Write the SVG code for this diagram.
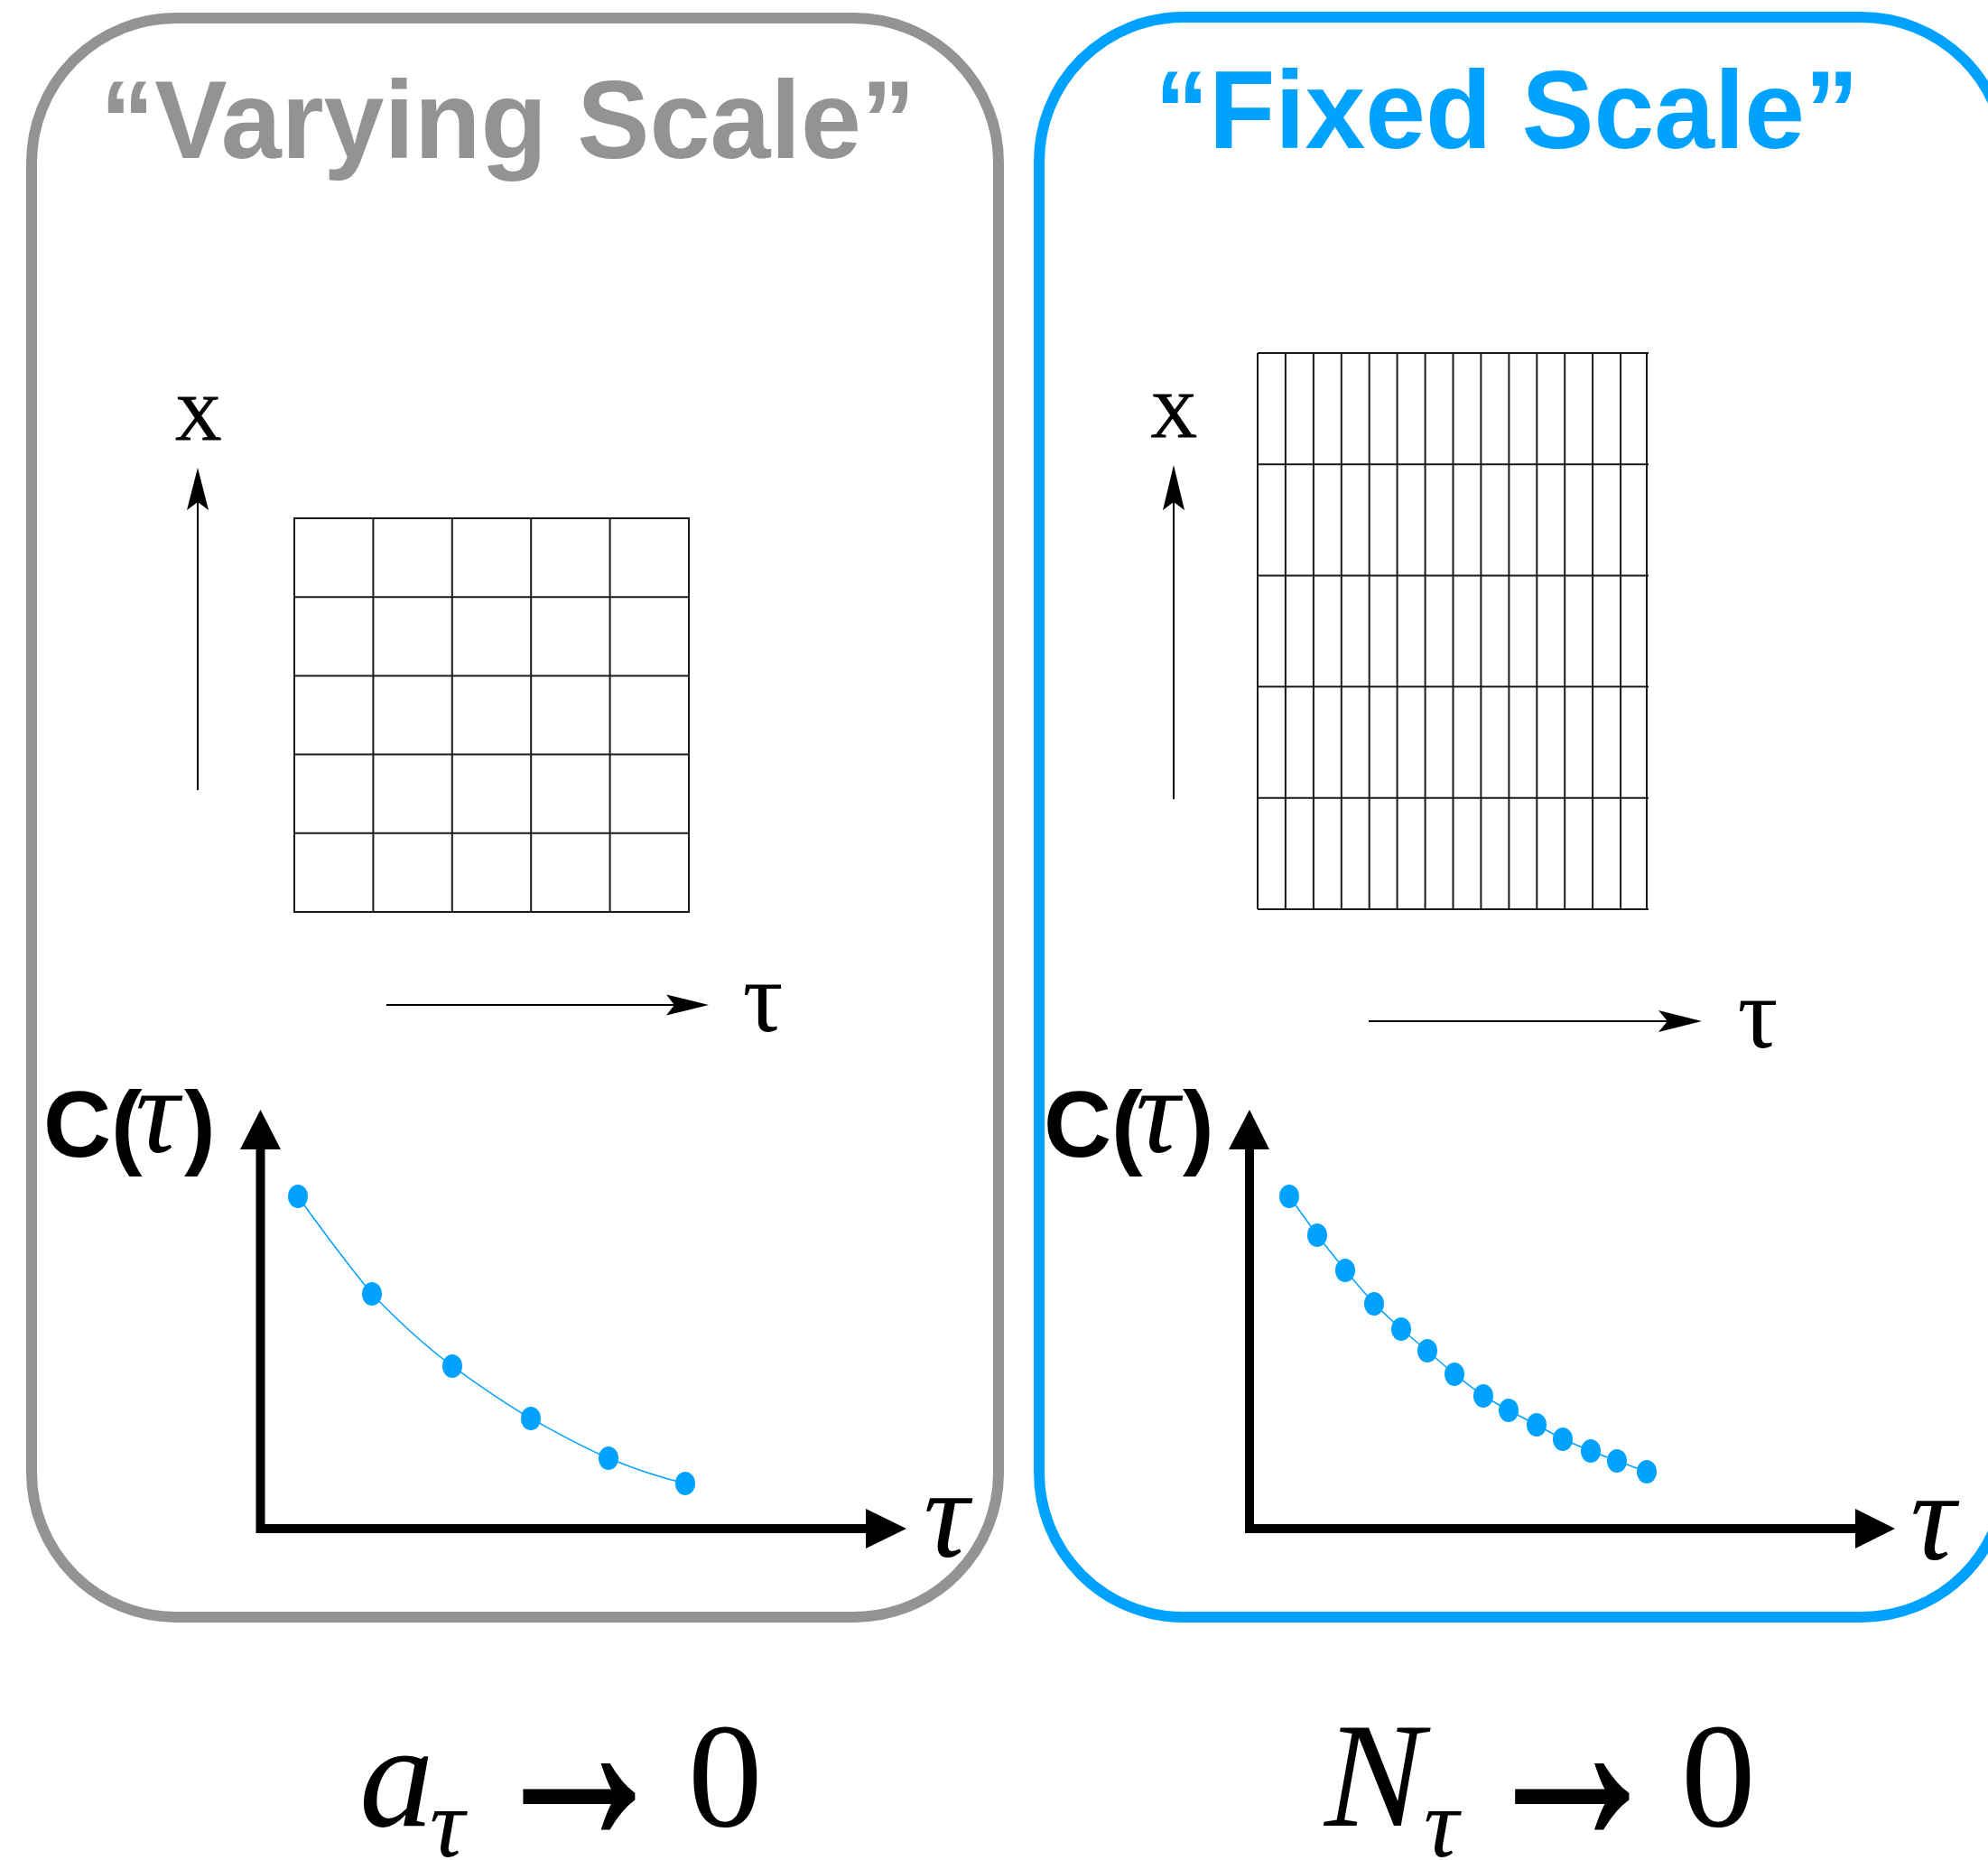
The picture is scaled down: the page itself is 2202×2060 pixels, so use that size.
<svg xmlns="http://www.w3.org/2000/svg" width="2202" height="2060" viewBox="0 0 2202 2060">
<defs>
<style>
.box{fill:none;stroke-width:12}
.title{font-family:"Liberation Sans",Arial,sans-serif;font-weight:bold;font-size:123px}
.grid{stroke:#1a1a1a;stroke-width:2;fill:none}
.thin{stroke:#000;stroke-width:2;fill:none}
.axis{stroke:#000;stroke-width:10;fill:none}
.serif{font-family:"Liberation Serif","Times New Roman",serif;fill:#000}
.ital{font-family:"Liberation Serif","Times New Roman",serif;font-style:italic;font-weight:normal;fill:#000}
.cb{font-family:"Liberation Sans",Arial,sans-serif;font-weight:bold;fill:#000}
.arr{font-family:"Liberation Serif","Times New Roman",serif;fill:#000;stroke:#000;stroke-width:2.2}
.dot{fill:#00A2FF}
.curve{fill:none;stroke:#00A2FF;stroke-width:1.5}
</style>
</defs>
<rect width="2202" height="2060" fill="#fff"/>

<g id="panel-varying">
<rect class="box" x="35" y="20" width="1071" height="1771" rx="160" ry="160" stroke="#939393"/>
<text class="title" x="111" y="175" fill="#939393" textLength="903" lengthAdjust="spacingAndGlyphs">“Varying Scale”</text>
</g>

<g id="panel-fixed">
<rect class="box" x="1151" y="19" width="1071" height="1772" rx="160" ry="160" stroke="#00A2FF"/>
<text class="title" x="1279" y="164" fill="#00A2FF" textLength="780" lengthAdjust="spacingAndGlyphs">“Fixed Scale”</text>
</g>

<g id="grid-varying">
<rect class="grid" x="326" y="574" width="437" height="436"/>
<path class="grid" d="M413.4,574V1010M500.8,574V1010M588.2,574V1010M675.6,574V1010M326,661.2H763M326,748.4H763M326,835.6H763M326,922.8H763"/>
</g>

<g id="grid-fixed">
<path class="grid" d="M1393,391H1826M1393,514.2H1826M1393,637.4H1826M1393,760.6H1826M1393,883.8H1826M1393,1007H1826
M1393,391V1007M1423.9,391V1007M1454.9,391V1007M1485.8,391V1007M1516.7,391V1007M1547.6,391V1007M1578.6,391V1007M1609.5,391V1007M1640.4,391V1007M1671.4,391V1007M1702.3,391V1007M1733.2,391V1007M1764.1,391V1007M1795.1,391V1007M1824,391V1007"/>
</g>

<g id="labels">
<text class="serif" x="219.5" y="487" font-size="72" text-anchor="middle" stroke="#000" stroke-width="1">X</text>
<text class="serif" x="1300" y="484" font-size="72" text-anchor="middle" stroke="#000" stroke-width="1">X</text>
<text class="serif" x="845" y="1142" font-size="112" text-anchor="middle">τ</text>
<text class="serif" x="1947" y="1160" font-size="112" text-anchor="middle">τ</text>

<text class="cb" x="48" y="1281" font-size="104">C(<tspan class="ital" x="150" y="1276" font-size="135">τ</tspan><tspan x="204" y="1281">)</tspan></text>
<text class="cb" x="1156" y="1281" font-size="104">C(<tspan class="ital" x="1258" y="1276" font-size="135">τ</tspan><tspan x="1310" y="1281">)</tspan></text>

<text class="ital" x="1048" y="1724" font-size="140" text-anchor="middle">τ</text>
<text class="ital" x="2141" y="1727" font-size="140" text-anchor="middle">τ</text>
</g>

<g id="formulas">
<text class="ital" x="398" y="2022" font-size="165">a<tspan x="476" y="2056" font-size="108">τ</tspan></text>
<text class="arr" transform="translate(539,2039) scale(1.6,1.8)" x="0" y="0" font-size="165" textLength="128" lengthAdjust="spacingAndGlyphs">→</text>
<text class="serif" x="762" y="2022" font-size="165">0</text>

<text class="ital" x="1467" y="2022" font-size="165">N<tspan x="1577" y="2056" font-size="108">τ</tspan></text>
<text class="arr" transform="translate(1637,2039) scale(1.63,1.8)" x="0" y="0" font-size="165" textLength="128" lengthAdjust="spacingAndGlyphs">→</text>
<text class="serif" x="1862" y="2022" font-size="165">0</text>
</g>

<g id="connectors">
<line class="thin" x1="219" y1="875" x2="219" y2="555"/>
<path d="M219,518 L231,565 L219,556 L207,565 Z" fill="#000"/>
<line class="thin" x1="1300" y1="885" x2="1300" y2="555"/>
<path d="M1300,515 L1312,565 L1300,556 L1288,565 Z" fill="#000"/>
<line class="thin" x1="428" y1="1113" x2="750" y2="1113"/>
<path d="M785,1113 L738,1101.5 L747,1113 L738,1124.5 Z" fill="#000"/>
<line class="thin" x1="1516" y1="1131" x2="1850" y2="1131"/>
<path d="M1885,1131 L1837,1119 L1847,1131 L1837,1143 Z" fill="#000"/>

<path class="axis" d="M288.5,1268V1698M284,1693H962"/>
<path d="M288.5,1229 L311,1273 L266,1273 Z" fill="#000"/>
<path d="M1004,1693 L959,1671 L959,1715 Z" fill="#000"/>
<path class="axis" d="M1384,1268V1698M1379,1693H2058"/>
<path d="M1384,1229 L1406,1273 L1361,1273 Z" fill="#000"/>
<path d="M2099,1693 L2055,1671 L2055,1715 Z" fill="#000"/>
</g>

<g id="data-varying">
<path class="curve" d="M330,1325 C355,1360 385,1400 412,1433 C440,1462 470,1490 501,1513 C530,1534 560,1555 588,1571 C617,1587 645,1603 674,1615 C703,1627 730,1636 759,1643"/>
<ellipse class="dot" cx="330" cy="1325" rx="11" ry="13"/>
<ellipse class="dot" cx="412" cy="1433" rx="11" ry="13"/>
<ellipse class="dot" cx="501" cy="1513" rx="11" ry="13"/>
<ellipse class="dot" cx="588" cy="1571" rx="11" ry="13"/>
<ellipse class="dot" cx="674" cy="1615" rx="11" ry="13"/>
<ellipse class="dot" cx="759" cy="1643" rx="11" ry="13"/>
</g>

<g id="data-fixed">
<polyline class="curve" points="1428,1325 1459,1368 1490,1407 1522,1444 1552,1472 1581,1496 1611,1522 1643,1546 1671,1562 1702,1578 1731,1594 1762,1607 1791,1618 1824,1630"/>
<ellipse class="dot" cx="1428" cy="1325" rx="11" ry="13"/>
<ellipse class="dot" cx="1459" cy="1368" rx="11" ry="13"/>
<ellipse class="dot" cx="1490" cy="1407" rx="11" ry="13"/>
<ellipse class="dot" cx="1522" cy="1444" rx="11" ry="13"/>
<ellipse class="dot" cx="1552" cy="1472" rx="11" ry="13"/>
<ellipse class="dot" cx="1581" cy="1496" rx="11" ry="13"/>
<ellipse class="dot" cx="1611" cy="1522" rx="11" ry="13"/>
<ellipse class="dot" cx="1643" cy="1546" rx="11" ry="13"/>
<ellipse class="dot" cx="1671" cy="1562" rx="11" ry="13"/>
<ellipse class="dot" cx="1702" cy="1578" rx="11" ry="13"/>
<ellipse class="dot" cx="1731" cy="1594" rx="11" ry="13"/>
<ellipse class="dot" cx="1762" cy="1607" rx="11" ry="13"/>
<ellipse class="dot" cx="1791" cy="1618" rx="11" ry="13"/>
<ellipse class="dot" cx="1824" cy="1630" rx="11" ry="13"/>
</g>
</svg>
